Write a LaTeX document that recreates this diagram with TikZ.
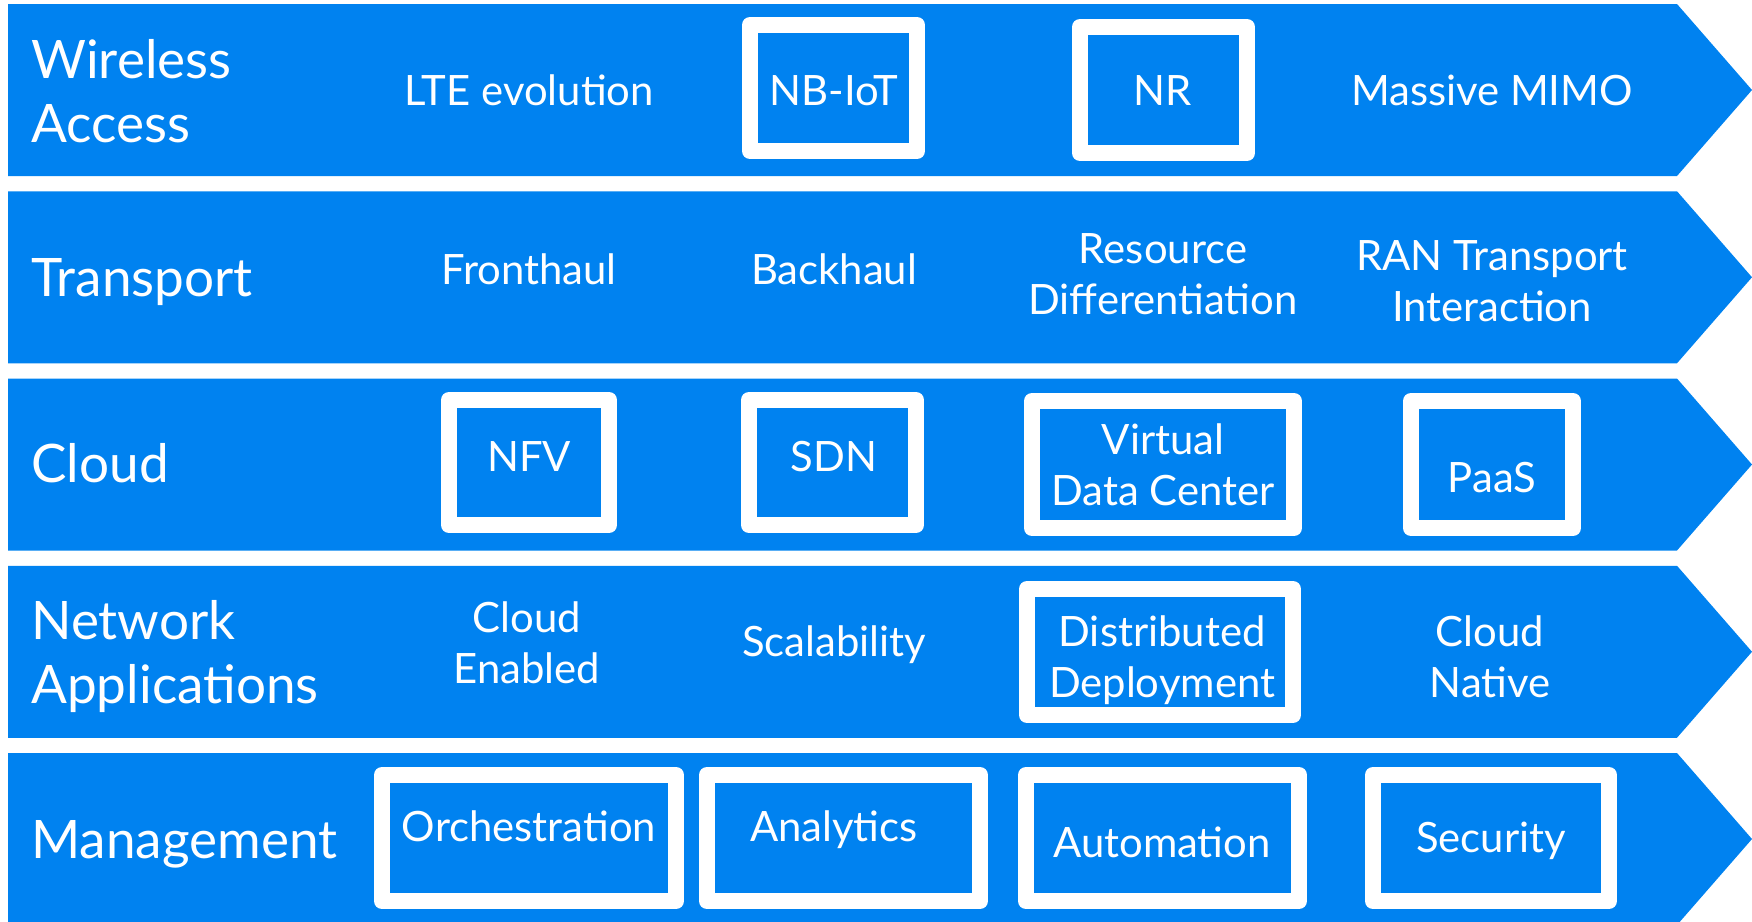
\documentclass[tikz,border=0pt]{standalone}
\usepackage{fontspec}
\setmainfont{Lato}
\definecolor{bandblue}{HTML}{0082F0}
\tikzset{
  band/.style={fill=bandblue},
  frame/.style={draw=white, line width=0.32cm, line join=round},
  layer/.style={text=white, anchor=base west, align=left, inner sep=0pt, font=\fontsize{30.2}{36.4}\selectfont},
  item/.style={text=white, anchor=base, align=center, inner sep=0pt, font=\fontsize{23.8}{29}\selectfont},
}
\begin{document}
\begin{tikzpicture}[x=0.02cm, y=-0.02cm]
	\useasboundingbox (0,0) rectangle (1752,921);
	
	% bands
	\foreach \t in {4,191.25,378.5,565.75,753}{
		\fill[band] (8,\t) -- (1677,\t) -- (1752,{\t+86}) -- (1677,{\t+172}) -- (8,{\t+172}) -- cycle;
	}
	
	% frames
	\draw[frame] (750,25) rectangle (917,151);
	\draw[frame] (1080,27) rectangle (1247,153);
	\draw[frame] (449,400) rectangle (609,525);
	\draw[frame] (749,400) rectangle (916,525);
	\draw[frame] (1032,401) rectangle (1294,528);
	\draw[frame] (1411,401) rectangle (1573,528);
	\draw[frame] (1027,589) rectangle (1293,715);
	\draw[frame] (382,775) rectangle (676,901);
	\draw[frame] (707,775) rectangle (980,901);
	\draw[frame] (1026,775) rectangle (1299,901);
	\draw[frame] (1373,775) rectangle (1609,901);
	
	% layers (base = last line)
	\node[layer] (wireless) at (31,142) {Wireless\\Access};
	\node[layer] (transport) at (31,296) {Transport};
	\node[layer] (cloud) at (31,482) {Cloud};
	\node[layer] (netapps) at (31,703) {Network\\Applications};
	\node[layer] (mgmt) at (31,858) {Management};
	
	% wireless access
	\node[item] (lte) at (529,105) {LTE evolution};
	\node[item] (nbiot) at (834,105) {NB-IoT};
	\node[item] (nr) at (1163,105) {NR};
	\node[item] (mimo) at (1492,105) {Massive MIMO};
	
	% transport
	\node[item] (fronthaul) at (529,284) {Fronthaul};
	\node[item] (backhaul) at (834,284) {Backhaul};
	\node[item] (resdiff) at (1163,314) {Resource\\Differentiation};
	\node[item] (rantrans) at (1492,321) {RAN Transport\\Interaction};
	
	% cloud
	\node[item] (nfv) at (529,471) {NFV};
	\node[item] (sdn) at (834,471) {SDN};
	\node[item] (vdc) at (1163,505) {Virtual\\Data Center};
	\node[item] (paas) at (1492,492) {PaaS};
	
	% network applications
	\node[item] (cloudenabled) at (527,683) {Cloud\\Enabled};
	\node[item] (scalability) at (834,656) {Scalability};
	\node[item] (distdeploy) at (1162,697) {Distributed\\Deployment};
	\node[item] (cloudnative) at (1490,697) {Cloud\\Native};
	
	% management
	\node[item] (orch) at (529,841) {Orchestration};
	\node[item] (analytics) at (834,841) {Analytics};
	\node[item] (automation) at (1162,857) {Automation};
	\node[item] (security) at (1491,852) {Security};
\end{tikzpicture}
\end{document}
